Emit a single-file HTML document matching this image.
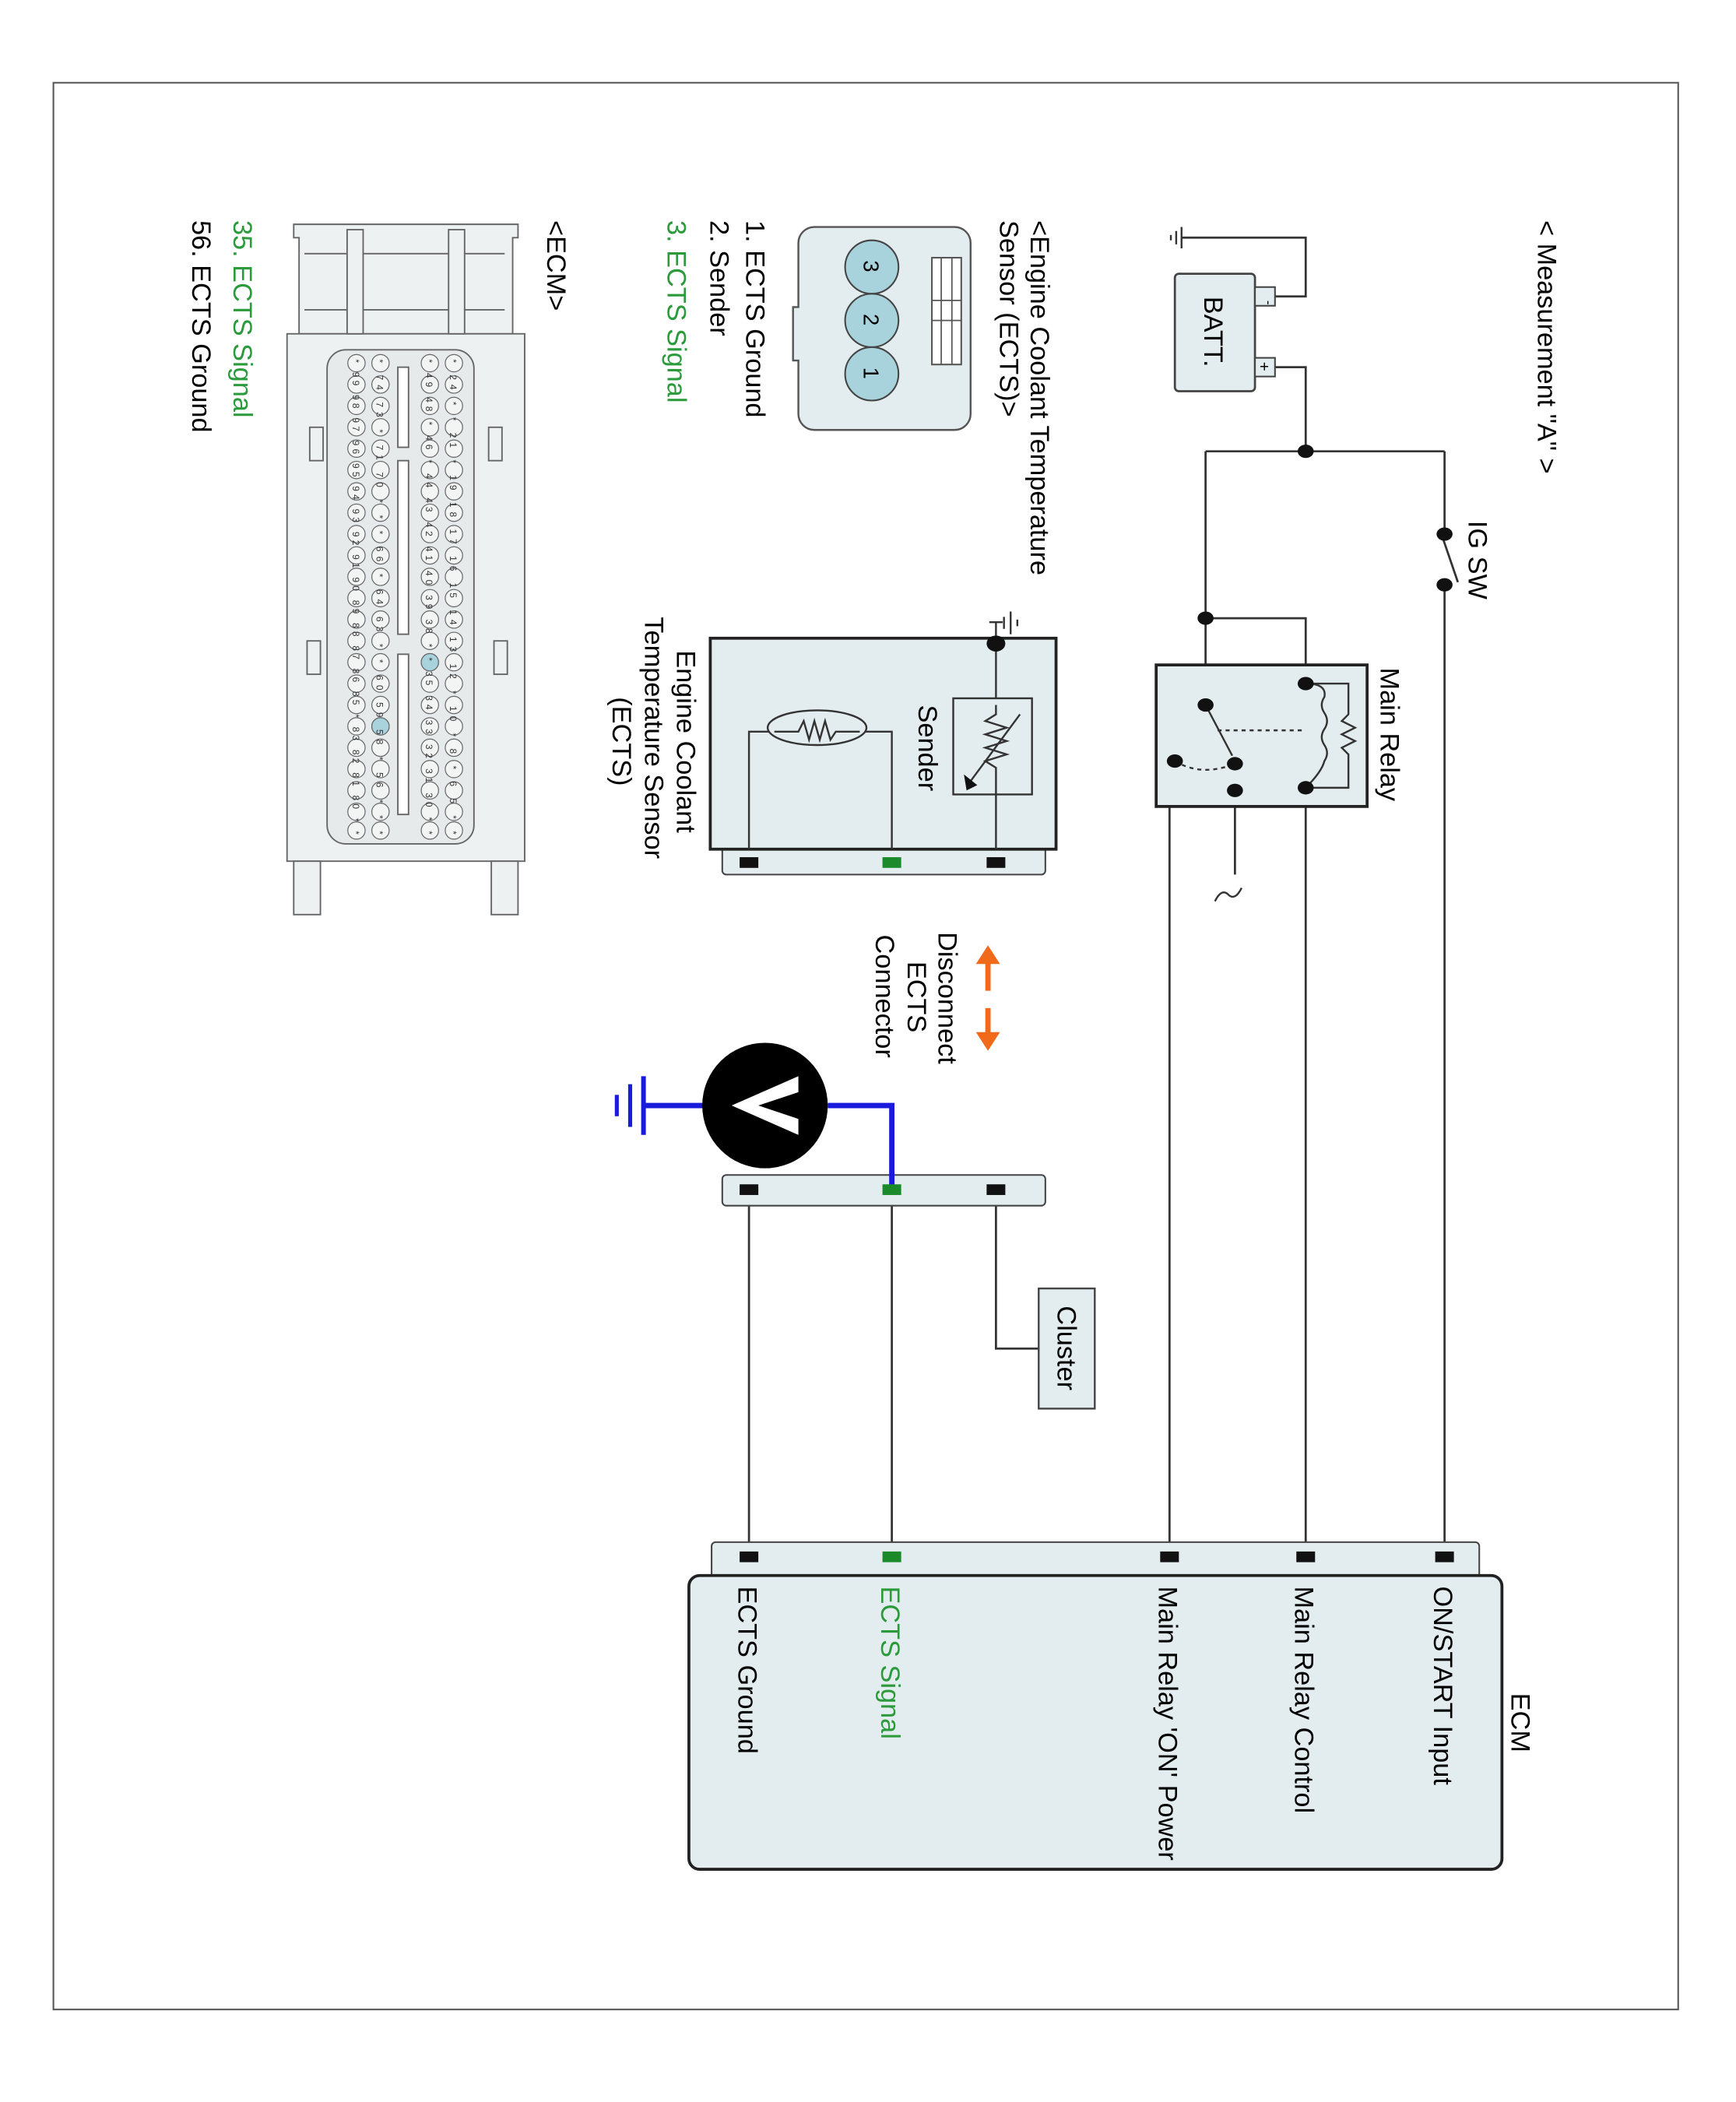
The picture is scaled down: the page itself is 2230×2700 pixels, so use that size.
<!DOCTYPE html>
<html><head><meta charset="utf-8"><style>html,body{margin:0;padding:0;background:#fff}svg{display:block}</style></head>
<body>
<svg width="2230" height="2700" viewBox="0 0 1300.3 1574.3" preserveAspectRatio="none" xmlns="http://www.w3.org/2000/svg" font-family="Liberation Sans, sans-serif">
<rect x="0" y="0" width="1300.3" height="1574.3" fill="#fff"/>
<rect x="40" y="62" width="1217" height="1443" fill="none" stroke="#555" stroke-width="1.2"/>

<g stroke="#333" stroke-width="1.6" fill="none">
<polyline points="955,222 978,222 978,178 885,178"/>
<polyline points="955,275 978,275 978,338"/>
<line x1="903" y1="338" x2="1082" y2="338"/>
<line x1="1082" y1="338" x2="1082" y2="400"/>
<line x1="1082" y1="438" x2="1082" y2="1162"/>
<line x1="1080" y1="401" x2="1092" y2="436"/>
<line x1="903" y1="338" x2="903" y2="528"/>
<polyline points="903,463 978,463 978,512"/>
<line x1="978" y1="590" x2="978" y2="1162"/>
<polyline points="925,592 876,592 876,1162"/>
<line x1="925" y1="572" x2="925" y2="655"/>
<line x1="561" y1="891" x2="561" y2="1162"/>
<line x1="668" y1="891" x2="668" y2="1162"/>
<polyline points="746,891 746,1010 778,1010"/>
</g>
<g stroke="#333" stroke-width="1.4"><line x1="885" y1="170" x2="885" y2="186"/><line x1="881" y1="173" x2="881" y2="183"/><line x1="877" y1="176" x2="877" y2="180"/></g>
<path d="M910 675 q5 -10 10 -5 q5 5 10 -5" stroke="#333" stroke-width="1.4" fill="none"/>

<rect x="880" y="205" width="60" height="88" rx="3" fill="#e3ecee" stroke="#444" stroke-width="1.6"/>
<rect x="940" y="215" width="15" height="14" fill="#e3ecee" stroke="#444" stroke-width="1.2"/>
<rect x="940" y="268" width="15" height="14" fill="#e3ecee" stroke="#444" stroke-width="1.2"/>
<text x="947" y="225" font-size="10" transform="rotate(90 947 225)">-</text>
<text x="943" y="271" font-size="12" transform="rotate(90 943 271)">+</text>
<text x="902" y="222" font-size="20" transform="rotate(90 902 222)">BATT.</text>
<text x="1152" y="165" font-size="20" transform="rotate(90 1152 165)">&lt; Measurement "A" &gt;</text>
<text x="1100" y="390" font-size="20" transform="rotate(90 1100 390)">IG SW</text>
<g fill="#111"><ellipse cx="978" cy="338" rx="6" ry="5"/><ellipse cx="1082" cy="400" rx="6" ry="5"/><ellipse cx="1082" cy="438" rx="6" ry="5"/><ellipse cx="903" cy="463" rx="6" ry="5"/></g>

<rect x="866" y="498" width="158" height="106" fill="#e3ecee" stroke="#222" stroke-width="2.2"/>
<text x="1034" y="500" font-size="20" transform="rotate(90 1034 500)">Main Relay</text>
<g stroke="#333" stroke-width="1.4" fill="none">
<polyline points="978,512 1010,512 1010,535 1005,540 1015,545 1005,550 1015,555 1005,560 1010,565 1010,590 978,590"/>
<path d="M978 512 q16 0 14 10 q-4 6 0 12 q4 6 0 12 q-4 6 0 12 q4 6 0 12 q-2 8 -14 20"/>
<line x1="903" y1="528" x2="923" y2="566"/>
<line x1="912" y1="547" x2="978" y2="547" stroke-dasharray="3,3"/>
<path d="M880 570 q20 12 45 2" stroke-dasharray="3,3"/>
</g>
<g fill="#111"><ellipse cx="978" cy="512" rx="6" ry="5"/><ellipse cx="978" cy="590" rx="6" ry="5"/><ellipse cx="903" cy="528" rx="6" ry="5"/><ellipse cx="925" cy="572" rx="6" ry="5"/><ellipse cx="880" cy="570" rx="6" ry="5"/><ellipse cx="925" cy="592" rx="6" ry="5"/></g>

<rect x="533" y="1155" width="575" height="28" rx="3" fill="#e3ecee" stroke="#444" stroke-width="1.2"/>
<rect x="516" y="1180" width="609" height="220" rx="8" fill="#e3ecee" stroke="#222" stroke-width="2.2"/>
<g fill="#111"><rect x="554" y="1162" width="14" height="8"/><rect x="869" y="1162" width="14" height="8"/><rect x="971" y="1162" width="14" height="8"/><rect x="1075" y="1162" width="14" height="8"/></g>
<rect x="661" y="1162" width="14" height="8" fill="#1a8a2a"/>
<text x="1132" y="1268" font-size="20" transform="rotate(90 1132 1268)">ECM</text>
<text x="1074" y="1188" font-size="20" transform="rotate(90 1074 1188)">ON/START Input</text>
<text x="970" y="1188" font-size="20" transform="rotate(90 970 1188)">Main Relay Control</text>
<text x="868" y="1188" font-size="20" transform="rotate(90 868 1188)">Main Relay 'ON' Power</text>
<text x="660" y="1188" font-size="20" fill="#2a9a3a" transform="rotate(90 660 1188)">ECTS Signal</text>
<text x="553" y="1188" font-size="20" transform="rotate(90 553 1188)">ECTS Ground</text>

<rect x="778" y="965" width="42" height="90" fill="#e3ecee" stroke="#444" stroke-width="1.4"/>
<text x="792" y="978" font-size="20" transform="rotate(90 792 978)">Cluster</text>

<rect x="541" y="880" width="242" height="23" rx="3" fill="#e3ecee" stroke="#444" stroke-width="1.2"/>
<g fill="#111"><rect x="554" y="887" width="14" height="8"/><rect x="739" y="887" width="14" height="8"/></g>
<g stroke="#1a1adc" stroke-width="4" fill="none">
<polyline points="620,828 668,828 668,888"/>
<line x1="482" y1="828" x2="530" y2="828"/>
<line x1="482" y1="806" x2="482" y2="850" stroke-width="3.5"/>
<line x1="472" y1="812" x2="472" y2="844" stroke-width="3"/>
<line x1="462" y1="820" x2="462" y2="836" stroke-width="3"/>
</g>
<rect x="661" y="887" width="14" height="8" fill="#1a8a2a"/>
<circle cx="573" cy="828" r="47" fill="#000"/>
<polygon points="548,828 598,806 598,818 568,828 598,838 598,850" fill="#fff"/>
<g stroke="#f06a1a" stroke-width="4" fill="#f06a1a">
<line x1="740" y1="718" x2="740" y2="742"/><line x1="740" y1="755" x2="740" y2="777"/>
<polygon points="731,722 749,722 740,708" stroke="none"/><polygon points="731,773 749,773 740,787" stroke="none"/>
</g>
<text x="703" y="698" font-size="20" transform="rotate(90 703 698)">Disconnect</text>
<text x="680" y="720" font-size="20" transform="rotate(90 680 720)">ECTS</text>
<text x="656" y="700" font-size="20" transform="rotate(90 656 700)">Connector</text>

<rect x="541" y="632" width="242" height="23" rx="3" fill="#e3ecee" stroke="#444" stroke-width="1.2"/>
<rect x="532" y="478" width="259" height="158" fill="#e3ecee" stroke="#222" stroke-width="2.2"/>
<g fill="#111"><rect x="554" y="642" width="14" height="8"/><rect x="739" y="642" width="14" height="8"/></g>
<rect x="661" y="642" width="14" height="8" fill="#1a8a2a"/>
<g stroke="#333" stroke-width="1.4" fill="none">
<line x1="746" y1="482" x2="746" y2="636"/>
<line x1="757" y1="458" x2="757" y2="475"/><line x1="752" y1="462" x2="752" y2="471"/><line x1="762" y1="464" x2="762" y2="469"/>
<line x1="746" y1="466" x2="746" y2="482"/><line x1="741" y1="466" x2="751" y2="466"/>
<rect x="714" y="523" width="59" height="72" fill="#e3ecee"/>
<polyline points="746,528 746,535 738,540 754,545 738,550 754,555 738,560 754,565 738,570 746,575 746,595" fill="none"/>
<line x1="764" y1="535" x2="727" y2="585"/>
<polyline points="561,636 561,548 668,548 668,636"/>
<ellipse cx="612" cy="545" rx="37" ry="13" fill="#e3ecee"/>
<polyline points="580,548 598,548 602,540 606,554 610,540 614,554 618,540 622,554 626,548 644,548"/>
</g>
<polygon points="722,580 732,588 724,592" fill="#111"/>
<ellipse cx="746" cy="482" rx="7" ry="6" fill="#111"/>
<text x="688" y="528" font-size="20" transform="rotate(90 688 528)">Sender</text>
<text x="507" y="487" font-size="20" transform="rotate(90 507 487)">Engine Coolant</text>
<text x="483" y="462" font-size="20" transform="rotate(90 483 462)">Temperature Sensor</text>
<text x="459" y="522" font-size="20" transform="rotate(90 459 522)">(ECTS)</text>

<path d="M610 170 h105 a12 12 0 0 1 12 12 v128 a12 12 0 0 1 -12 12 h-105 a12 12 0 0 1 -12 -12 v-40 h-4 v-40 h4 v-48 a12 12 0 0 1 12 -12z" fill="#e3ecee" stroke="#555" stroke-width="1.4"/>
<rect x="698" y="193" width="22" height="80" fill="#fff" stroke="#555" stroke-width="1.2"/>
<g stroke="#555" stroke-width="1"><line x1="705" y1="193" x2="705" y2="273"/><line x1="713" y1="193" x2="713" y2="273"/><line x1="698" y1="225" x2="720" y2="225"/><line x1="698" y1="240" x2="720" y2="240"/></g>
<g fill="#a9d3dc" stroke="#444" stroke-width="1.2"><circle cx="653" cy="200" r="20"/><circle cx="653" cy="240" r="20"/><circle cx="653" cy="280" r="20"/></g>
<text x="647" y="195" font-size="16" transform="rotate(90 647 195)">3</text>
<text x="647" y="235" font-size="16" transform="rotate(90 647 235)">2</text>
<text x="647" y="275" font-size="16" transform="rotate(90 647 275)">1</text>
<text x="772" y="165" font-size="20" transform="rotate(90 772 165)">&lt;Engine Coolant Temperature</text>
<text x="749" y="165" font-size="20" transform="rotate(90 749 165)">Sensor (ECTS)&gt;</text>
<text x="559" y="165" font-size="20" transform="rotate(90 559 165)">1. ECTS Ground</text>
<text x="532" y="165" font-size="20" transform="rotate(90 532 165)">2. Sender</text>
<text x="500" y="165" font-size="20" fill="#2a9a3a" transform="rotate(90 500 165)">3. ECTS Signal</text>

<text x="410" y="165" font-size="20" transform="rotate(90 410 165)">&lt;ECM&gt;</text>
<text x="175" y="165" font-size="20" fill="#2a9a3a" transform="rotate(90 175 165)">35. ECTS Signal</text>
<text x="144" y="165" font-size="20" transform="rotate(90 144 165)">56. ECTS Ground</text>
<g stroke="#666" stroke-width="1.1" fill="#eef1f2">
<path d="M220 168 h168 v10 h-4 v72 h-160 v-72 h-4z"/>
<path d="M228 190 h150 M228 232 h150" fill="none"/>
<rect x="215" y="250" width="178" height="395"/>
<rect x="220" y="645" width="20" height="40"/><rect x="368" y="645" width="20" height="40"/>
<rect x="260" y="172" width="12" height="78"/><rect x="336" y="172" width="12" height="78"/>
<rect x="232" y="320" width="10" height="25"/><rect x="366" y="320" width="10" height="25"/>
<rect x="230" y="480" width="10" height="25"/><rect x="370" y="480" width="10" height="25"/>
<rect x="245" y="262" width="110" height="370" rx="14" fill="#e6eaeb"/>
<rect x="298" y="275" width="8" height="60" fill="#fff"/><rect x="298" y="345" width="8" height="130" fill="#fff"/><rect x="298" y="490" width="8" height="120" fill="#fff"/>
</g>
<g stroke="#666" stroke-width="0.7">
<g id="r1">
<circle cx="340" cy="272" r="6.5" fill="#f3f5f5"/><circle cx="340" cy="288" r="6.5" fill="#f3f5f5"/><circle cx="340" cy="304" r="6.5" fill="#f3f5f5"/><circle cx="340" cy="320" r="6.5" fill="#f3f5f5"/><circle cx="340" cy="336" r="6.5" fill="#f3f5f5"/><circle cx="340" cy="352" r="6.5" fill="#f3f5f5"/><circle cx="340" cy="368" r="6.5" fill="#f3f5f5"/><circle cx="340" cy="384" r="6.5" fill="#f3f5f5"/><circle cx="340" cy="400" r="6.5" fill="#f3f5f5"/><circle cx="340" cy="416" r="6.5" fill="#f3f5f5"/><circle cx="340" cy="432" r="6.5" fill="#f3f5f5"/><circle cx="340" cy="448" r="6.5" fill="#f3f5f5"/><circle cx="340" cy="464" r="6.5" fill="#f3f5f5"/><circle cx="340" cy="480" r="6.5" fill="#f3f5f5"/><circle cx="340" cy="496" r="6.5" fill="#f3f5f5"/><circle cx="340" cy="512" r="6.5" fill="#f3f5f5"/><circle cx="340" cy="528" r="6.5" fill="#f3f5f5"/><circle cx="340" cy="544" r="6.5" fill="#f3f5f5"/><circle cx="340" cy="560" r="6.5" fill="#f3f5f5"/><circle cx="340" cy="576" r="6.5" fill="#f3f5f5"/><circle cx="340" cy="592" r="6.5" fill="#f3f5f5"/><circle cx="340" cy="608" r="6.5" fill="#f3f5f5"/><circle cx="340" cy="622" r="6.5" fill="#f3f5f5"/>
</g>
<use href="#r1" transform="translate(-18 0)"/>
<use href="#r1" transform="translate(-55 0)"/>
<use href="#r1" transform="translate(-73 0)"/>
<circle cx="322" cy="496" r="6.5" fill="#a9d3dc"/>
<circle cx="285" cy="544" r="6.5" fill="#a9d3dc"/>
</g>
<g font-size="7" fill="#333">
<text x="337" y="269" textLength="356" lengthAdjust="spacing" transform="rotate(90 337 269)">* 24 * * 21 * 19 18 17 16 15 14 13 12 * 10 * 8 * 6 5 * *</text>
<text x="319" y="269" textLength="356" lengthAdjust="spacing" transform="rotate(90 319 269)">* 49 48 * 46 * 44 43 42 41 40 39 38 * * 35 34 33 32 31 30 * *</text>
<text x="282" y="269" textLength="356" lengthAdjust="spacing" transform="rotate(90 282 269)">* 74 73 * 71 70 * * * 66 * 64 63 * * 60 59 58 * 56 * * *</text>
<text x="264" y="269" textLength="356" lengthAdjust="spacing" transform="rotate(90 264 269)">* 99 98 97 96 95 94 93 92 91 90 89 88 87 86 85 * 83 82 81 80 * *</text>
</g>
</svg>
</body></html>
